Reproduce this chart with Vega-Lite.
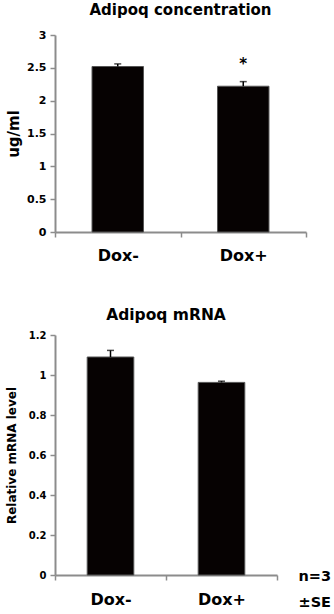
{
  "$schema": "https://vega.github.io/schema/vega-lite/v6.json",
  "padding": {"left": 5, "top": 3, "right": 0, "bottom": 0},
  "spacing": 44,
  "config": {
    "font": "DejaVu Sans",
    "view": {"stroke": null},
    "axis": {"domainColor": "#8c8c8c", "tickColor": "#8c8c8c", "labelColor": "#000", "titleColor": "#000", "labelFontWeight": "bold", "titleFontWeight": "bold", "grid": false, "tickSize": 5, "domainWidth": 2, "tickWidth": 1.5, "labelOverlap": false},
    "title": {"fontWeight": "bold", "color": "#000", "anchor": "middle", "frame": "group", "baseline": "alphabetic"}
  },
  "vconcat": [
    {
      "width": 251,
      "height": 197,
      "title": {"text": "Adipoq concentration", "fontSize": 15, "offset": 11},
      "data": {"values": [
        {"group": "Dox-", "value": 2.52, "upper": 2.56, "sig": ""},
        {"group": "Dox+", "value": 2.22, "upper": 2.29, "sig": "*"}
      ]},
      "encoding": {
        "x": {"field": "group", "type": "nominal", "sort": ["Dox-", "Dox+"], "scale": {"paddingInner": 0, "paddingOuter": 0}, "axis": {"title": null, "labelAngle": 0, "labelFontSize": 16, "labelPadding": 10, "tickBand": "extent"}}
      },
      "layer": [
        {"mark": {"type": "bar", "width": {"band": 0.41}, "fill": "#060202", "stroke": "#555", "strokeWidth": 1},
         "encoding": {"y": {"field": "value", "type": "quantitative", "scale": {"domain": [0, 3]}, "axis": {"title": "ug/ml", "titleFontSize": 15, "labelFontSize": 11, "values": [0, 0.5, 1, 1.5, 2, 2.5, 3], "format": "~g", "labelPadding": 4, "titlePadding": 5}}}},
        {"mark": {"type": "rule", "color": "#000", "strokeWidth": 1.5},
         "encoding": {"y": {"field": "value", "type": "quantitative", "axis": {"title": "ug/ml", "titleFontSize": 15, "labelFontSize": 11, "values": [0, 0.5, 1, 1.5, 2, 2.5, 3], "format": "~g", "labelPadding": 4, "titlePadding": 5}}, "y2": {"field": "upper"}}},
        {"mark": {"type": "tick", "color": "#000", "size": 7, "thickness": 1.5},
         "encoding": {"y": {"field": "upper", "type": "quantitative", "axis": {"title": "ug/ml", "titleFontSize": 15, "labelFontSize": 11, "values": [0, 0.5, 1, 1.5, 2, 2.5, 3], "format": "~g", "labelPadding": 4, "titlePadding": 5}}}},
        {"mark": {"type": "text", "fontSize": 15, "fontWeight": "bold", "baseline": "alphabetic", "dy": -13},
         "encoding": {"y": {"field": "upper", "type": "quantitative", "axis": {"title": "ug/ml", "titleFontSize": 15, "labelFontSize": 11, "values": [0, 0.5, 1, 1.5, 2, 2.5, 3], "format": "~g", "labelPadding": 4, "titlePadding": 5}}, "text": {"field": "sig"}}}
      ]
    },
    {
      "width": 222,
      "height": 240,
      "title": {"text": "Adipoq mRNA", "fontSize": 15.5, "offset": 7},
      "encoding": {
        "x": {"field": "group", "type": "nominal", "sort": ["Dox-", "Dox+"], "scale": {"paddingInner": 0, "paddingOuter": 0}, "axis": {"title": null, "labelAngle": 0, "labelFontSize": 16, "labelPadding": 11, "tickBand": "extent"}}
      },
      "layer": [
        {"data": {"values": [
          {"group": "Dox-", "value": 1.09, "upper": 1.123},
          {"group": "Dox+", "value": 0.963, "upper": 0.969}
        ]},
         "layer": [
          {"mark": {"type": "bar", "width": {"band": 0.42}, "fill": "#060202", "stroke": "#555", "strokeWidth": 1},
           "encoding": {"y": {"field": "value", "type": "quantitative", "scale": {"domain": [0, 1.2]}, "axis": {"title": "Relative mRNA level", "titleFontSize": 12, "labelFontSize": 10, "values": [0, 0.2, 0.4, 0.6, 0.8, 1, 1.2], "format": "~g", "labelPadding": 4, "titlePadding": 10}}}},
          {"mark": {"type": "rule", "color": "#000", "strokeWidth": 1.5},
           "encoding": {"y": {"field": "value", "type": "quantitative", "axis": {"title": "Relative mRNA level", "titleFontSize": 12, "labelFontSize": 10, "values": [0, 0.2, 0.4, 0.6, 0.8, 1, 1.2], "format": "~g", "labelPadding": 4, "titlePadding": 10}}, "y2": {"field": "upper"}}},
          {"mark": {"type": "tick", "color": "#000", "size": 7, "thickness": 1.5},
           "encoding": {"y": {"field": "upper", "type": "quantitative", "axis": {"title": "Relative mRNA level", "titleFontSize": 12, "labelFontSize": 10, "values": [0, 0.2, 0.4, 0.6, 0.8, 1, 1.2], "format": "~g", "labelPadding": 4, "titlePadding": 10}}}}
        ]},
        {"data": {"values": [{"note": "n=3\n±SE"}]},
         "mark": {"type": "text", "fontSize": 14.5, "fontWeight": "bold", "align": "left", "baseline": "alphabetic", "lineBreak": "\n", "lineHeight": 26, "dx": 77, "dy": 6},
         "encoding": {"x": {"datum": "Dox+"}, "y": {"datum": 0, "axis": {"title": "Relative mRNA level", "titleFontSize": 12, "labelFontSize": 10, "values": [0, 0.2, 0.4, 0.6, 0.8, 1, 1.2], "format": "~g", "labelPadding": 4, "titlePadding": 10}}, "text": {"field": "note"}}}
      ]
    }
  ]
}
